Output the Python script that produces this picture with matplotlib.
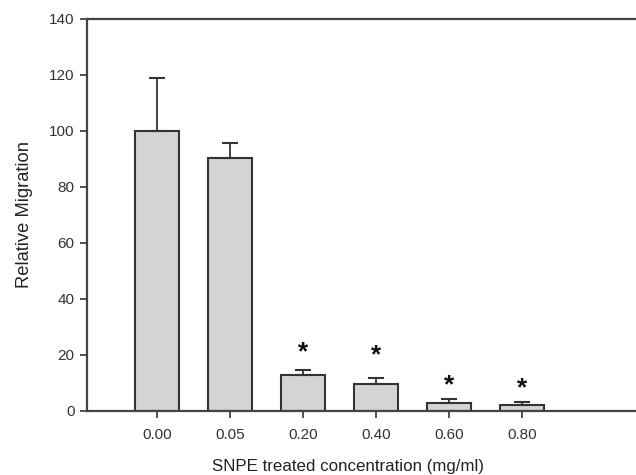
import matplotlib
matplotlib.use("Agg")
import matplotlib.pyplot as plt
import numpy as np

categories = ["0.00", "0.05", "0.20", "0.40", "0.60", "0.80"]
means = [100.0, 90.3, 12.7, 9.5, 3.0, 2.1]
errors = [18.8, 5.3, 1.9, 2.2, 1.3, 1.2]
significant = [False, False, True, True, True, True]
star_y = [0, 0, 20.8, 20.0, 9.3, 8.2]
yticks = [0, 20, 40, 60, 80, 100, 120, 140]

plt.rcParams['font.family'] = ['Liberation Sans', 'DejaVu Sans']

W, H = 636, 475
fig = plt.figure(figsize=(W / 100, H / 100), dpi=100)
left_px, right_px, top_px, bot_px = 87, 700, 19, 411
ax = fig.add_axes([left_px / W, 1 - bot_px / H, (right_px - left_px) / W, (bot_px - top_px) / H])

x = np.arange(len(categories))
edge = '#333333'
ax.bar(x, means, width=0.59, color='#d4d4d4', edgecolor=edge, linewidth=1.5, zorder=2)
ax.errorbar(x, means, yerr=[np.zeros(len(means)), errors], fmt='none', ecolor=edge,
            elinewidth=1.3, capsize=5.5, capthick=1.5, zorder=3)

for xi, sig, sy in zip(x, significant, star_y):
    if sig:
        ax.text(xi, sy, '*', ha='center', va='center', fontsize=19, fontweight='bold', color='#111111')

px_per_unit = 73
x0_px = 157
ax.set_xlim(-(x0_px - left_px) / px_per_unit, (right_px - x0_px) / px_per_unit)
ax.set_ylim(0, 140)
ax.set_xticks(x)
ax.set_xticklabels(categories)
ax.set_yticks(yticks)

for side in ['left', 'top', 'bottom', 'right']:
    ax.spines[side].set_color('#444444')
    ax.spines[side].set_linewidth(1.6)
ax.tick_params(axis='both', direction='out', length=5, width=1.3, color='#444444',
               labelsize=11, labelcolor='#333333', pad=4)
ax.tick_params(axis='x', pad=7)

ax.set_xlabel('SNPE treated concentration (mg/ml)', fontsize=12.2, color='#222222')
ax.xaxis.set_label_coords((348 - left_px) / (right_px - left_px), -(466 - bot_px) / (bot_px - top_px))
ax.xaxis.label.set_va('center')
ax.set_ylabel('Relative Migration', fontsize=13.2, color='#222222')
ax.yaxis.set_label_coords(-(left_px - 25) / (right_px - left_px), (bot_px - 214) / (bot_px - top_px))
ax.yaxis.label.set_va('center')

fig.savefig('out.png', dpi=100, facecolor='white')
